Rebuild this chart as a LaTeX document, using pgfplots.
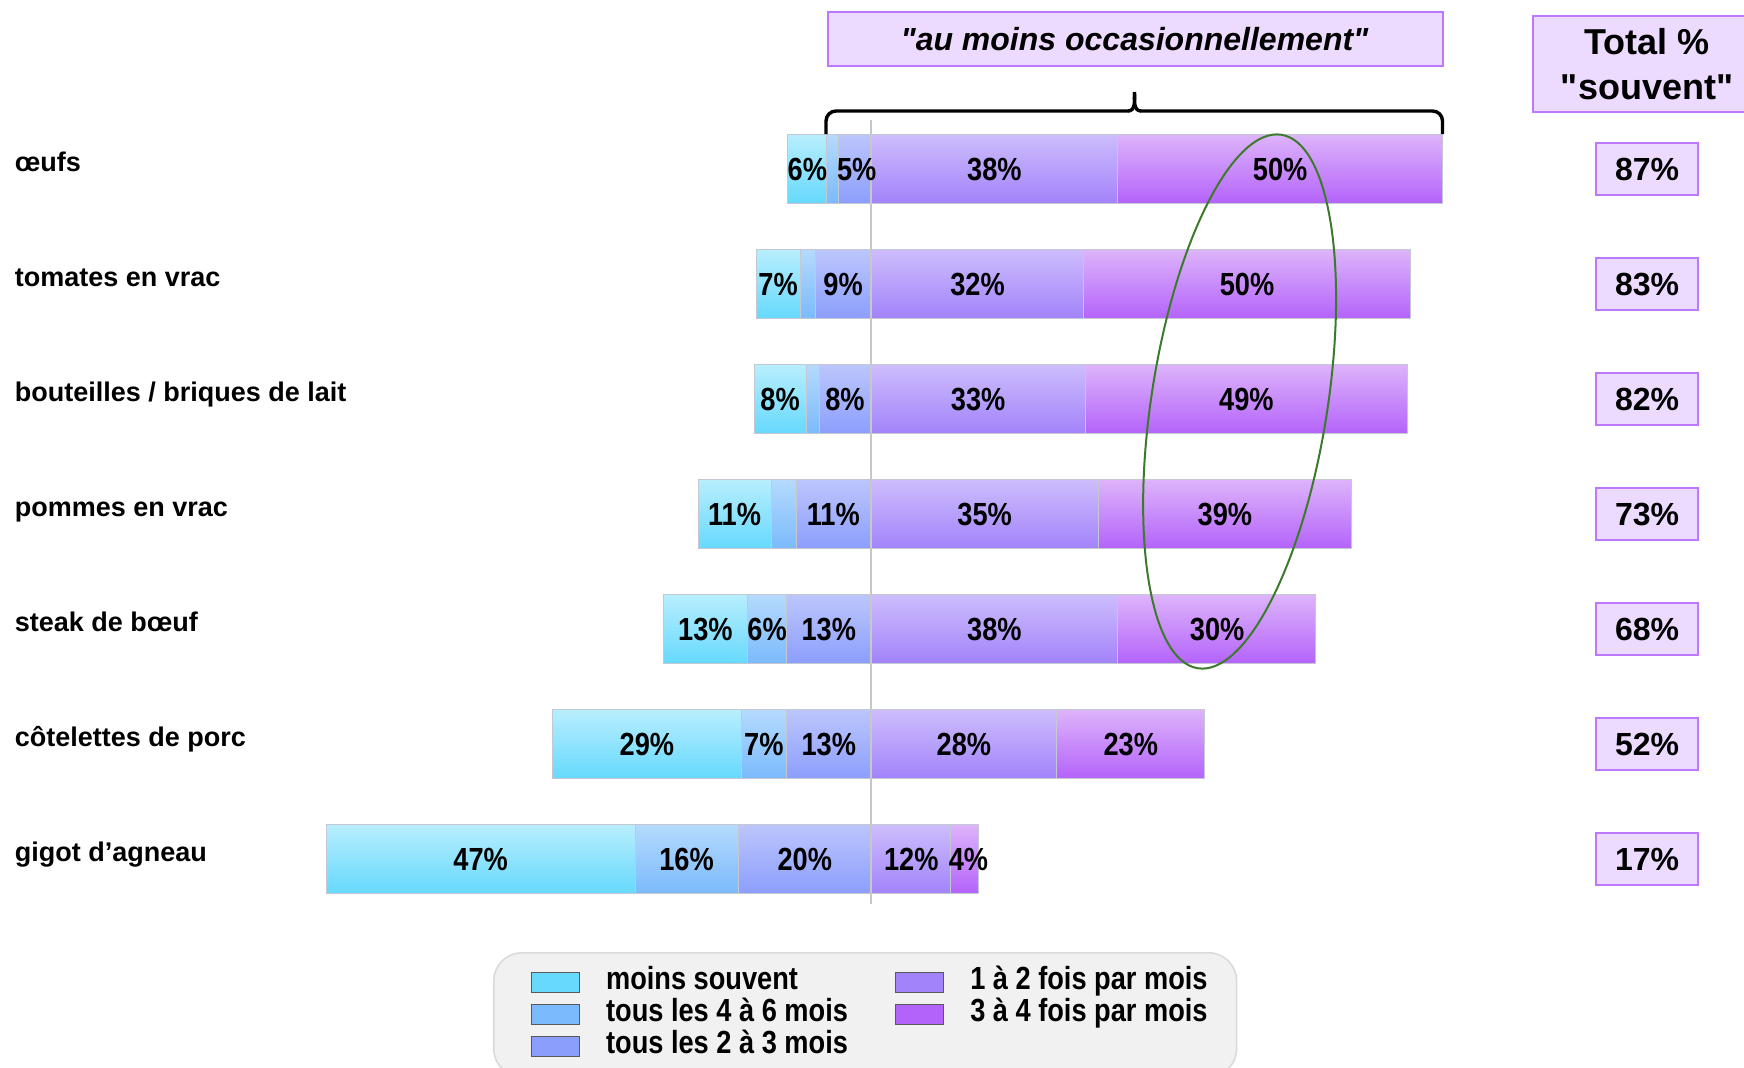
\documentclass[border=0pt]{standalone}
\usepackage{fontspec}
\setmainfont{Liberation Sans}[Ligatures=TeXOff]
\newfontfamily\narrowfont[FakeStretch=0.85]{Liberation Sans}
\usepackage{pgfplots}
\pgfplotsset{compat=1.18}

\definecolor{c1t}{HTML}{B8EEFD}\definecolor{c1b}{HTML}{66D9FD}
\definecolor{c2t}{HTML}{B5DAFD}\definecolor{c2b}{HTML}{7BBAFC}
\definecolor{c3t}{HTML}{BCC6FC}\definecolor{c3b}{HTML}{8C9EFC}
\definecolor{c4t}{HTML}{CDBDFC}\definecolor{c4b}{HTML}{A283FA}
\definecolor{c5t}{HTML}{DDB4FA}\definecolor{c5b}{HTML}{B463FA}
\definecolor{barline}{HTML}{C4C8D2}
\definecolor{boxfill}{HTML}{ECDAFF}
\definecolor{boxline}{HTML}{BC78FF}
\definecolor{ellgreen}{HTML}{3C7A2C}
\definecolor{legfill}{HTML}{F1F1F1}
\definecolor{legline}{HTML}{DADADA}

% vertical gradient repeated for each of the 7 bars of a series
\newcommand\barshading[3]{\pgfdeclareverticalshading{#1}{100bp}{color(0bp)=(#3); color(25bp)=(#3);
 color(29.5455bp)=(#2); color(32.5758bp)=(#3); color(37.1212bp)=(#2); color(40.1515bp)=(#3);
 color(44.6970bp)=(#2); color(47.7273bp)=(#3); color(52.2727bp)=(#2); color(55.3030bp)=(#3);
 color(59.8485bp)=(#2); color(62.8788bp)=(#3); color(67.4242bp)=(#2); color(70.4545bp)=(#3);
 color(75bp)=(#2); color(100bp)=(#2)}}
\barshading{shA}{c1t}{c1b}
\barshading{shB}{c2t}{c2b}
\barshading{shC}{c3t}{c3b}
\barshading{shD}{c4t}{c4b}
\barshading{shE}{c5t}{c5b}

\pgfplotsset{
  base/.style={scale only axis, width=565.06pt, height=402.5pt,
    xmin=-84, xmax=90, ymin=-0.5, ymax=6.5, y dir=reverse,
    at={(162.7pt,-458.25pt)}, anchor=south west},
  seg/.style={draw=barline, line width=0.5pt, shade, shading=#1},
  sw/.style={legend image code/.code={\path (0pt,0pt); \draw[sharp corners, draw=black!65, line width=0.5pt, fill=#1] (4pt,-5pt) rectangle (28pt,5pt);}}
}

\begin{document}
\begin{tikzpicture}
\path[use as bounding box] (0,0) rectangle (872pt,-533.5pt);
\clip (0,0) rectangle (872pt,-533.5pt);

% left side (negative, stacked outward from zero)
\begin{axis}[base, hide axis, xbar stacked, bar width=0.6]
\draw[black!22, line width=0.7pt] (axis cs:0,-0.43) -- (axis cs:0,6.39);
\addplot[seg=shC] coordinates {(-5,0) (-8.6,1) (-8,2) (-11.5,3) (-13,4) (-13,5) (-20.4,6)};
\addplot[seg=shB] coordinates {(-1.8,0) (-2.3,1) (-2,2) (-3.8,3) (-6,4) (-7,5) (-15.9,6)};
\addplot[seg=shA] coordinates {(-6,0) (-6.8,1) (-8,2) (-11.3,3) (-13,4) (-29,5) (-47.6,6)};
\end{axis}

% right side
\begin{axis}[base, hide axis, xbar stacked, bar width=0.6]
\addplot[seg=shD] coordinates {(38,0) (32.7,1) (33,2) (35,3) (38,4) (28.6,5) (12.3,6)};
\addplot[seg=shE] coordinates {(50,0) (50.3,1) (49.6,2) (39,3) (30.5,4) (22.8,5) (4.3,6)};
\end{axis}

% labels, totals, legend
\begin{axis}[base, clip=false, axis line style={draw=none}, tick style={draw=none},
  major tick length=0pt, xtick=\empty, ytick={0,...,6},
  yticklabels={œufs, tomates en vrac, bouteilles / briques de lait, pommes en vrac, steak de bœuf, côtelettes de porc, gigot d’agneau},
  yticklabel style={anchor=base west, xshift=-155.45pt, yshift=-1pt, inner sep=0pt, font=\fontsize{13.5}{16}\selectfont\bfseries},
  legend columns=2, legend cell align=left,
  legend style={at={(0.1483,-0.0441)}, anchor=north west, draw=legline, fill=legfill, line width=0.8pt,
    rounded corners=14pt, inner xsep=14.5pt, inner ysep=7pt, row sep=0pt,
    font=\narrowfont\fontsize{16}{19}\selectfont\bfseries,
    nodes={inner sep=0pt, text height=11.5pt, text depth=4.5pt},
    /tikz/every odd column/.append style={column sep=13pt},
    /tikz/every even column/.append style={column sep=19.5pt}}]
\addlegendimage{sw=c1b}\addlegendentry{moins souvent}
\addlegendimage{sw=c4b}\addlegendentry{1 à 2 fois par mois}
\addlegendimage{sw=c2b}\addlegendentry{tous les 4 à 6 mois}
\addlegendimage{sw=c5b}\addlegendentry{3 à 4 fois par mois}
\addlegendimage{sw=c3b}\addlegendentry{tous les 2 à 3 mois}

\addplot[forget plot, draw=none, mark=none, nodes near coords={\pgfplotspointmeta\%},
  point meta=explicit symbolic, nodes near coords align={center},
  every node near coord/.append style={anchor=center, inner sep=0pt, text=black, font=\narrowfont\fontsize{16}{19}\selectfont\bfseries}]
  table[x=x, y=y, meta=t] {
x y t
-9.8 0 6
-2.2 0 5
19 0 38
63 0 50
-14.3 1 7
-4.3 1 9
16.4 1 32
57.9 1 50
-14 2 8
-4 2 8
16.5 2 33
57.8 2 49
-21 3 11
-5.8 3 11
17.5 3 35
54.5 3 39
-25.5 4 13
-16 4 6
-6.5 4 13
19 4 38
53.3 4 30
-34.5 5 29
-16.5 5 7
-6.5 5 13
14.3 5 28
40 5 23
-60.1 6 47
-28.4 6 16
-10.2 6 20
6.2 6 12
15 6 4
};

\addplot[forget plot, draw=none, mark=none, nodes near coords={\pgfplotspointmeta\%},
  point meta=explicit symbolic, nodes near coords align={center},
  every node near coord/.append style={anchor=center, draw=boxline, fill=boxfill, line width=1pt,
    minimum width=51pt, minimum height=26pt, inner sep=0pt, text=black, font=\fontsize{16}{19}\selectfont\bfseries}]
  table[x=x, y=y, meta=t] {
x y t
119.5 0 87
119.5 1 83
119.5 2 82
119.5 3 73
119.5 4 68
119.5 5 52
119.5 6 17
};
\end{axis}

\begin{scope}[x=0.5pt, y=-0.5pt]
% header box
\draw[draw=boxline, fill=boxfill, line width=1pt] (827.5,12.2) rectangle (1442.5,65.6);
\node[font=\fontsize{16}{19}\selectfont\bfseries\itshape] at (1134.5,39.5) {"au moins occasionnellement"};
% brace
\draw[line width=1.7pt, rounded corners=5pt] (826,134) -- (826,111) -- (1129,111);
\draw[line width=1.7pt] (1128,111) to[out=0,in=-90] (1134.5,92);
\draw[line width=1.7pt] (1134.5,92) to[out=-90,in=180] (1141,111);
\draw[line width=1.7pt, rounded corners=5pt] (1140,111) -- (1442.5,111) -- (1442.5,134);
% total header
\draw[draw=boxline, fill=boxfill, line width=1pt] (1532.6,15.6) rectangle (1765,112.3);
\node[align=center, font=\fontsize{18}{22.5}\selectfont\bfseries] at (1647,64) {Total \%\\"souvent"};
% ellipse
\draw[ellgreen, line width=1pt, rotate around={81.1:(1239.6,401.5)}] (1239.6,401.5) ellipse [x radius=135pt, y radius=44pt];
\end{scope}
\end{tikzpicture}
\end{document}
